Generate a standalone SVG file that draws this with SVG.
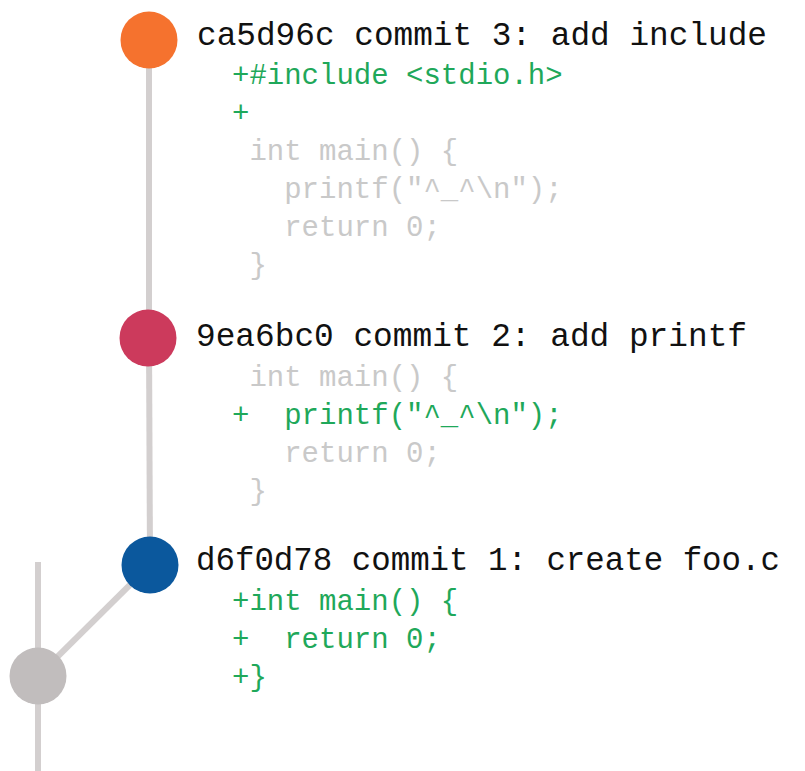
<svg xmlns="http://www.w3.org/2000/svg" width="805" height="771" viewBox="0 0 805 771">
<style>
.edge{stroke:#d3cfcf;stroke-width:6;fill:none}
.title{font-family:"Liberation Mono","DejaVu Sans Mono",monospace;font-size:33px;fill:#111}
.code{font-family:"Liberation Mono","DejaVu Sans Mono",monospace;font-size:29px;white-space:pre}
.add{fill:#1fa85a}
.ctx{fill:#c9c9c9}
</style>
<rect width="805" height="771" fill="#ffffff"/>
<g id="connectors">
<line class="edge" x1="149" y1="40" x2="149" y2="338"/>
<line class="edge" x1="149" y1="338" x2="150" y2="565"/>
<line class="edge" x1="150" y1="565" x2="38" y2="676"/>
<line class="edge" x1="38" y1="562" x2="38" y2="771"/>
</g>
<g id="commit3">
<circle cx="149" cy="40" r="28.5" fill="#f5722e"/>
<text class="title" x="197" y="45" textLength="570" lengthAdjust="spacingAndGlyphs">ca5d96c commit 3: add include</text>
<text class="code add" x="232" y="84" xml:space="preserve">+#include &lt;stdio.h&gt;</text>
<text class="code add" x="232" y="122" xml:space="preserve">+</text>
<text class="code ctx" x="232" y="160" xml:space="preserve"> int main() {</text>
<text class="code ctx" x="232" y="198" xml:space="preserve">   printf("^_^\n");</text>
<text class="code ctx" x="232" y="236" xml:space="preserve">   return 0;</text>
<text class="code ctx" x="232" y="274" xml:space="preserve"> }</text>
</g>
<g id="commit2">
<circle cx="148" cy="338" r="28.5" fill="#cc3a5c"/>
<text class="title" x="196" y="346" textLength="551" lengthAdjust="spacingAndGlyphs">9ea6bc0 commit 2: add printf</text>
<text class="code ctx" x="232" y="386" xml:space="preserve"> int main() {</text>
<text class="code add" x="232" y="424" xml:space="preserve">+  printf("^_^\n");</text>
<text class="code ctx" x="232" y="462" xml:space="preserve">   return 0;</text>
<text class="code ctx" x="232" y="500" xml:space="preserve"> }</text>
</g>
<g id="commit1">
<circle cx="150" cy="565" r="28.5" fill="#0b589d"/>
<text class="title" x="196" y="570" textLength="584" lengthAdjust="spacingAndGlyphs">d6f0d78 commit 1: create foo.c</text>
<text class="code add" x="232" y="610" xml:space="preserve">+int main() {</text>
<text class="code add" x="232" y="648" xml:space="preserve">+  return 0;</text>
<text class="code add" x="232" y="686" xml:space="preserve">+}</text>
</g>
<g id="root">
<circle cx="38" cy="676" r="28.5" fill="#c1bdbd"/>
</g>
</svg>
